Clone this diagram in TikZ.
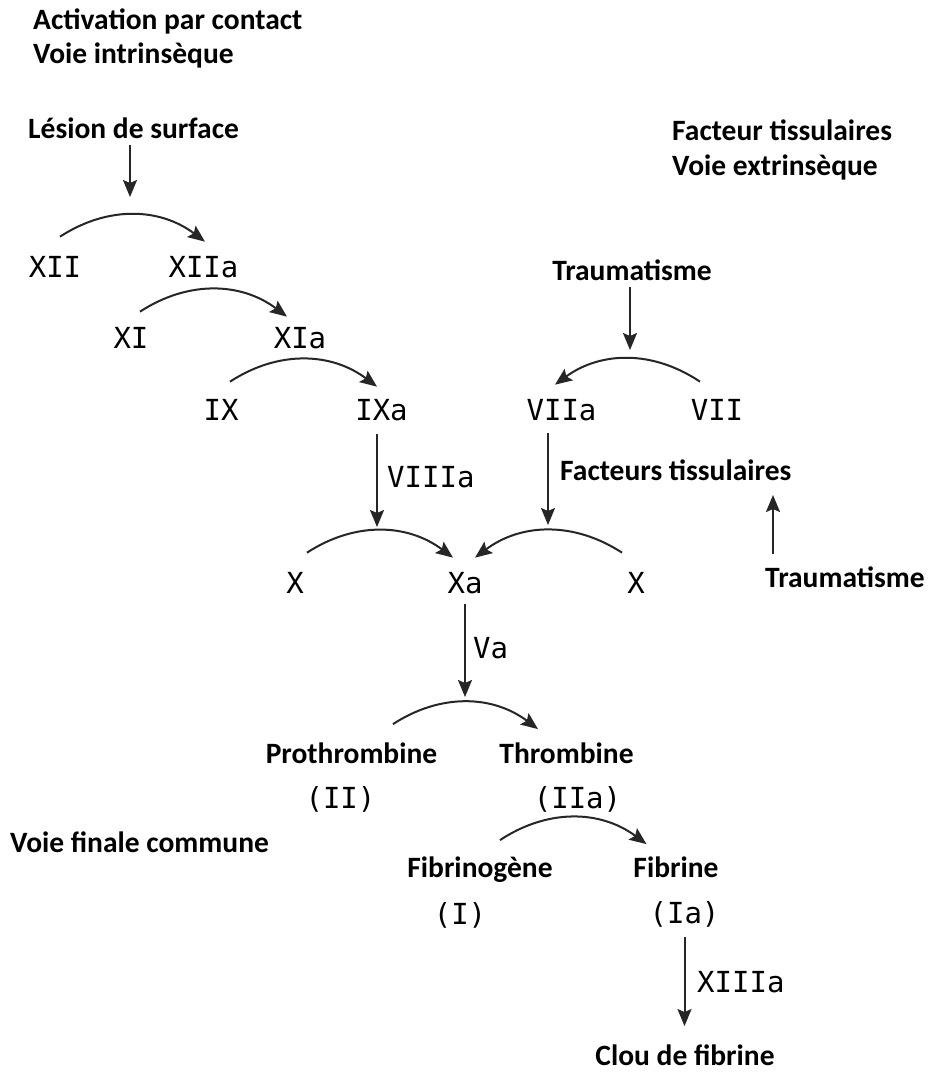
\documentclass[tikz,border=0pt]{standalone}
\usepackage{fontspec}
\setmainfont{Carlito}
\newfontfamily\numfont{DejaVu Sans Mono}
\usetikzlibrary{arrows.meta}

\begin{document}
\begin{tikzpicture}[x=1pt,y=-1pt,
  lbl/.style={font=\fontsize{29.5}{33}\selectfont\bfseries, inner sep=0pt, anchor=base},
  lblw/.style={lbl, anchor=base west},
  num/.style={font=\fontsize{29}{33}\selectfont\numfont, inner sep=0pt, anchor=base},
  numw/.style={num, anchor=base west},
  link/.style={line width=2pt, draw=black!85, -{Stealth[length=17pt,width=14pt,inset=3pt]}},
]
\useasboundingbox[fill=white] (0,0) rectangle (928,1072);

% headings
\node[lblw] (act)   at (33,29)  {Activation par contact};
\node[lblw] (intr)  at (33,63)  {Voie intrinsèque};
\node[lblw] (lesion) at (28,138) {Lésion de surface};
\node[lblw] (ftx)   at (672,140) {Facteur tissulaires};
\node[lblw] (extr)  at (672,175) {Voie extrinsèque};
\node[lblw] (fin)   at (10,852) {Voie finale commune};

% intrinsic cascade
\node[num] (xii)  at (55,277)    {XII};
\node[num] (xiia) at (203.5,277) {XIIa};
\node[num] (xi)   at (131,348)   {XI};
\node[num] (xia)  at (300,348)   {XIa};
\node[num] (ix)   at (221,420)   {IX};
\node[num] (ixa)  at (381.5,420) {IXa};
\node[numw] (viiia) at (387,487) {VIIIa};

% extrinsic pathway
\node[lbl]  (trauma)  at (632,280) {Traumatisme};
\node[num]  (viia)    at (561.5,420) {VIIa};
\node[num]  (vii)     at (717,420)   {VII};
\node[lblw] (fts)     at (560,480) {Facteurs tissulaires};
\node[lblw] (trauma2) at (765,587) {Traumatisme};

% common pathway
\node[num] (xl) at (295,593) {X};
\node[num] (xa) at (465,593) {Xa};
\node[num] (xr) at (636,593) {X};
\node[numw] (va) at (473,658) {Va};
\node[lbl] (pro) at (351.5,763) {Prothrombine};
\node[lbl] (thr) at (566.5,763) {Thrombine};
\node[num] (ii)  at (340.5,808) {(II)};
\node[num] (iia) at (577.5,808) {(IIa)};
\node[lbl] (fgn) at (480,877) {Fibrinogène};
\node[lbl] (fib) at (676,877) {Fibrine};
\node[num] (i)   at (460,924)   {(I)};
\node[num] (ia)  at (684.5,923) {(Ia)};
\node[numw] (xiiia) at (697,992) {XIIIa};
\node[lbl] (clou) at (685,1065) {Clou de fibrine};

% conversion arcs
\draw[link] ([xshift=5pt,yshift=19pt]xii.north) to[bend left=35] ([xshift=1.5pt,yshift=14pt]xiia.north);
\draw[link] ([xshift=9pt,yshift=15pt]xi.north) to[bend left=35] ([xshift=-13pt,yshift=10pt]xia.north);
\draw[link] ([xshift=9pt,yshift=17pt]ix.north) to[bend left=35] ([xshift=-4.5pt,yshift=12pt]ixa.north);
\draw[link] ([xshift=-17pt,yshift=17pt]vii.north) to[bend right=35] ([xshift=-6.5pt,yshift=14pt]viia.north);
\draw[link] ([xshift=12pt,yshift=19pt]xl.north) to[bend left=35] ([xshift=-12pt,yshift=14pt]xa.north);
\draw[link] ([xshift=-14pt,yshift=19pt]xr.north) to[bend right=35] ([xshift=10pt,yshift=14pt]xa.north);
\draw[link] ([xshift=41.5pt,yshift=18pt]pro.north) to[bend left=35] ([xshift=-28.5pt,yshift=13pt]thr.north);
\draw[link] ([xshift=20pt,yshift=16pt]fgn.north) to[bend left=35] ([xshift=-29.5pt,yshift=12pt]fib.north);

% vertical arrows
\coordinate (p1) at (130,197);
\coordinate (p2) at (377,527);
\coordinate (p3) at (548,525);
\coordinate (p4) at (630,350);
\coordinate (p5) at (465,697);
\coordinate (p6) at (773,495);
\draw[link, shorten <=7pt]  (lesion.south -| p1) -- (p1);
\draw[link, shorten <=13pt] (ixa.south -| p2) -- (p2);
\draw[link, shorten <=12pt] (viia.south -| p3) -- (p3);
\draw[link, shorten <=7pt]  (trauma.south -| p4) -- (p4);
\draw[link, shorten <=10pt] (xa.south -| p5) -- (p5);
\draw[link, shorten <=12pt] (trauma2.north -| p6) -- (p6);
\draw[link, shorten <=10pt, shorten >=18pt] (ia.south) -- (ia.south |- clou.north);
\end{tikzpicture}
\end{document}
